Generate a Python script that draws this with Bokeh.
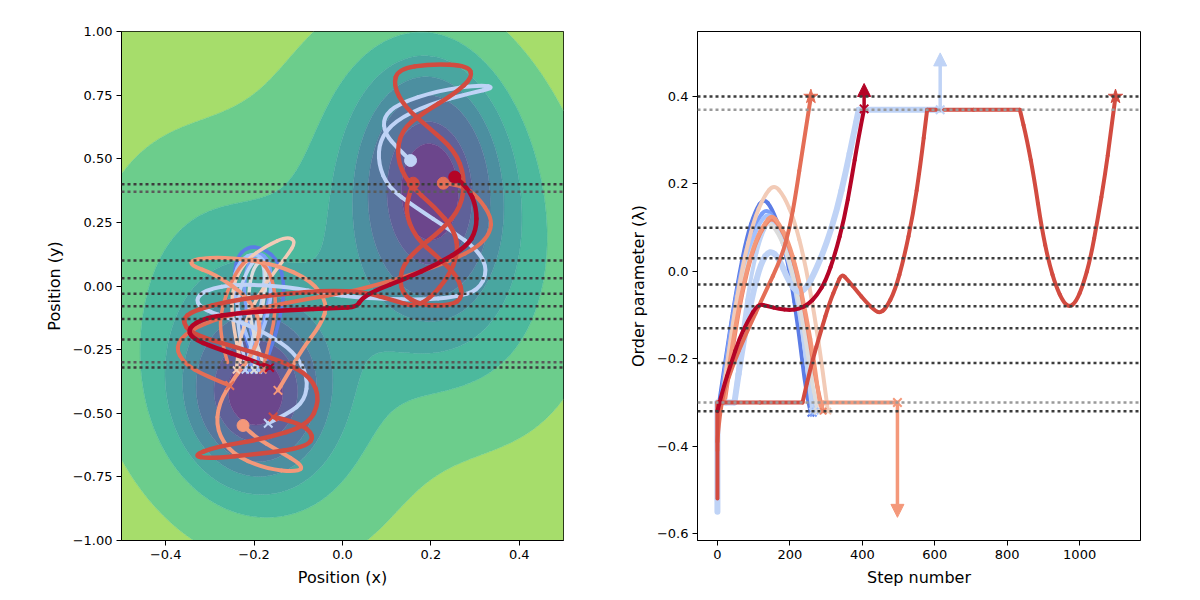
import numpy as np
from bokeh.plotting import figure
from bokeh.layouts import row
from bokeh.models import (Arrow, NormalHead, FixedTicker, CustomJSTickFormatter,
                          ColumnDataSource, Span, Range1d)
from bokeh.embed import file_html
from bokeh.resources import INLINE

FONT = "DejaVu Sans"

# ---------------- interfaces (order parameter = y position) ----------------
INTERFACES = [-0.32, -0.21, -0.13, -0.08, -0.03, 0.03, 0.10, 0.40]
SHIFTED_LINES = [-0.30, 0.37]

# ---------------- potential energy surface ----------------
WELL_X = [-0.20, 0.20]
WELL_Y = [-0.44, 0.41]
WELL_SX = [0.12, 0.12]
WELL_SY = [0.25, 0.37]
WELL_DEPTH = 1.5
VALLEY_ANGLE_DEG = 30.0
VALLEY_K_ACROSS = 4.5
VALLEY_K_ALONG = 2.7
VALLEY_K_ALONG4 = 2.0
BARRIER_HEIGHT = 0.4
BARRIER_WIDTH = 0.15
# points lying on the band boundaries (outermost boundary first)
LEVEL_X = [-0.50, -0.448, -0.398, -0.360, -0.330, -0.290, -0.258]
LEVEL_Y = [0.44, -0.43, -0.43, -0.43, -0.43, -0.43, -0.43]
# band colours from the bottom of the wells outwards
BAND_COLORS = ["#6c468c", "#5f6199", "#55789d", "#4c8fa0",
               "#49a6a0", "#4cb99d", "#6ccd8c", "#a6dd6b"]

# ---------------- trajectories: positions (x, y) ----------------
A_X = [-0.20, -0.22, -0.24, -0.245, -0.24, -0.215, -0.18, -0.145, -0.13, -0.14, -0.16, -0.18]
A_Y = [-0.30, -0.20, -0.08, 0.03, 0.11, 0.155, 0.150, 0.10, 0.0, -0.12, -0.24, -0.33]
B_X = [-0.19, -0.21, -0.225, -0.215, -0.19, -0.165, -0.16, -0.175, -0.195, -0.21]
B_Y = [-0.30, -0.16, -0.02, 0.09, 0.135, 0.10, 0.0, -0.12, -0.24, -0.33]
C_X = [-0.21, -0.18, -0.16, -0.165, -0.195, -0.235, -0.25, -0.23, -0.205, -0.19]
C_Y = [-0.30, -0.18, -0.05, 0.07, 0.135, 0.10, 0.0, -0.13, -0.25, -0.33]
D_X = [-0.22, -0.24, -0.235, -0.21, -0.19, -0.175, -0.18, -0.20, -0.22]
D_Y = [-0.30, -0.15, -0.02, 0.08, 0.115, 0.07, -0.05, -0.18, -0.33]
E_X = [-0.18, -0.20, -0.215, -0.205, -0.185, -0.17, -0.18, -0.195, -0.20]
E_Y = [-0.30, -0.20, -0.06, 0.06, 0.105, 0.05, -0.08, -0.20, -0.33]
F_X = [-0.23, -0.25, -0.25, -0.22, -0.17, -0.125, -0.105, -0.125, -0.17, -0.21, -0.235, -0.24]
F_Y = [-0.30, -0.15, 0.0, 0.10, 0.16, 0.195, 0.175, 0.12, 0.02, -0.10, -0.22, -0.33]
H_X = [-0.26, -0.28, -0.27, -0.24, -0.21, -0.17, -0.15, -0.155, -0.17, -0.18]
H_Y = [-0.30, -0.18, -0.06, 0.06, 0.115, 0.08, -0.03, -0.15, -0.25, -0.33]
G_X = [-0.146, -0.123, -0.093, -0.048, -0.033, -0.070, -0.153, -0.259, -0.338, -0.345, -0.289,
       -0.213, -0.183, -0.198, -0.244, -0.281, -0.285, -0.251, -0.176, -0.100, -0.089, -0.146,
       -0.198, -0.225]
G_Y = [-0.410, -0.345, -0.253, -0.149, -0.070, 0.022, 0.087, 0.113, 0.107, 0.081, 0.048,
       -0.044, -0.149, -0.253, -0.358, -0.463, -0.568, -0.659, -0.718, -0.731, -0.705, -0.646,
       -0.594, -0.548]
I_X = [-0.255, -0.311, -0.357, -0.379, -0.349, -0.274, -0.176, -0.078, 0.013, 0.088, 0.164,
       0.246, 0.307, 0.335, 0.337, 0.307, 0.269, 0.228]
I_Y = [-0.391, -0.352, -0.306, -0.240, -0.175, -0.122, -0.083, -0.050, -0.024, 0.009, 0.048,
       0.100, 0.153, 0.212, 0.271, 0.349, 0.399, 0.404]
J_X = [-0.157, -0.100, -0.063, -0.082, -0.183, -0.304, -0.338, -0.289, -0.176, -0.078, -0.051,
       -0.070, -0.138, -0.244, -0.342, -0.364, -0.338, -0.251, -0.138, -0.033, 0.050, 0.118,
       0.164, 0.201, 0.239, 0.262, 0.254, 0.209, 0.148, 0.122, 0.133, 0.179, 0.254, 0.295,
       0.284, 0.201, 0.126, 0.115, 0.141, 0.194, 0.254, 0.277, 0.269, 0.224, 0.164, 0.130,
       0.133, 0.179, 0.246, 0.273, 0.262, 0.216, 0.164, 0.141, 0.156, 0.160]
J_Y = [-0.515, -0.535, -0.587, -0.633, -0.659, -0.679, -0.666, -0.633, -0.600, -0.548, -0.450,
       -0.358, -0.293, -0.240, -0.188, -0.135, -0.096, -0.057, -0.031, -0.018, -0.024, -0.057,
       -0.083, -0.044, 0.035, 0.127, 0.218, 0.310, 0.402, 0.506, 0.611, 0.677, 0.755, 0.821,
       0.866, 0.873, 0.853, 0.788, 0.703, 0.624, 0.533, 0.428, 0.310, 0.218, 0.140, 0.061,
       -0.031, -0.077, -0.077, -0.044, 0.035, 0.113, 0.192, 0.297, 0.388, 0.404]
K_X = [-0.165, -0.213, -0.289, -0.342, -0.349, -0.311, -0.236, -0.123, -0.010, 0.032, 0.043,
       0.073, 0.141, 0.216, 0.280, 0.303, 0.303, 0.284, 0.254]
K_Y = [-0.320, -0.286, -0.243, -0.204, -0.164, -0.125, -0.107, -0.094, -0.086, -0.083, -0.050,
       -0.018, 0.028, 0.087, 0.153, 0.218, 0.310, 0.388, 0.428]
L_X = [-0.168, -0.123, -0.085, -0.078, -0.108, -0.176, -0.251, -0.311, -0.334, -0.311, -0.236,
       -0.123, -0.033, 0.028, 0.088, 0.179, 0.254, 0.307, 0.329, 0.307, 0.246, 0.164, 0.103,
       0.081, 0.084, 0.118, 0.194, 0.292, 0.345, 0.314, 0.216, 0.126, 0.092, 0.096, 0.126, 0.154]
L_Y = [-0.539, -0.502, -0.450, -0.358, -0.260, -0.181, -0.129, -0.096, -0.057, -0.015, 0.009,
       -0.004, -0.031, -0.044, -0.050, -0.054, -0.044, -0.018, 0.061, 0.140, 0.218, 0.310,
       0.388, 0.480, 0.572, 0.648, 0.713, 0.759, 0.779, 0.791, 0.768, 0.716, 0.663, 0.598,
       0.539, 0.493]

# ---------------- trajectories: order parameter vs step ----------------
A_STEP = [5, 30, 55, 80, 105, 128, 150, 175, 200, 225, 245, 258]
A_LAM = [-0.30, -0.16, -0.03, 0.075, 0.14, 0.168, 0.145, 0.09, 0.0, -0.14, -0.28, -0.325]
B_STEP = [8, 35, 60, 85, 110, 135, 160, 185, 210, 235, 255, 265]
B_LAM = [-0.30, -0.135, -0.017, 0.068, 0.118, 0.145, 0.118, 0.068, -0.017, -0.135, -0.26, -0.325]
C_STEP = [12, 40, 65, 90, 115, 140, 165, 190, 215, 240, 260, 270]
C_LAM = [-0.30, -0.135, -0.021, 0.06, 0.109, 0.135, 0.109, 0.06, -0.021, -0.135, -0.25, -0.32]
D_STEP = [47, 70, 95, 120, 145, 170, 195, 220, 245, 262]
D_LAM = [-0.30, -0.13, 0.0, 0.083, 0.12, 0.09, 0.03, -0.06, -0.20, -0.32]
E_STEP = [15, 42, 67, 92, 117, 142, 167, 192, 217, 242, 262, 276]
E_LAM = [-0.30, -0.145, -0.035, 0.042, 0.089, 0.115, 0.089, 0.042, -0.035, -0.145, -0.26, -0.32]
F_STEP = [12, 40, 70, 100, 128, 156, 184, 212, 240, 268, 290, 305]
F_LAM = [-0.30, -0.128, 0.015, 0.116, 0.171, 0.20, 0.172, 0.118, 0.028, -0.099, -0.223, -0.32]
H_STEP = [20, 48, 75, 100, 125, 150, 175, 200, 225, 250, 275, 292]
H_LAM = [-0.30, -0.141, -0.023, 0.054, 0.10, 0.125, 0.10, 0.054, -0.023, -0.131, -0.27, -0.32]
G_STEP = [0, 0, 0, 18, 18, 45, 75, 105, 130, 150, 170, 195, 220, 245, 268, 285, 292, 292, 497]
G_LAM = [-0.41, -0.30, -0.30, -0.30, -0.30, -0.145, -0.015, 0.07, 0.11, 0.13, 0.11, 0.07, 0.0,
         -0.10, -0.21, -0.32, -0.30, -0.30, -0.30]
I_STEP = [0, 8, 40, 80, 130, 176, 200, 217, 235, 258]
I_LAM = [-0.39, -0.30, -0.22, -0.14, -0.052, 0.03, 0.10, 0.18, 0.28, 0.40]
J_STEP = [0, 0, 0, 235, 235, 260, 286, 310, 330, 343, 360, 385, 410, 435, 449, 465, 490, 515,
          540, 560, 579, 579, 835, 835, 855, 875, 895, 915, 935, 955, 971, 990, 1010, 1030,
          1050, 1070, 1085, 1099]
J_LAM = [-0.52, -0.30, -0.30, -0.30, -0.30, -0.21, -0.136, -0.07, -0.03, -0.005, -0.02, -0.045,
         -0.07, -0.09, -0.095, -0.085, -0.045, 0.03, 0.13, 0.24, 0.37, 0.37, 0.37, 0.37, 0.30,
         0.21, 0.10, 0.02, -0.035, -0.07, -0.082, -0.07, -0.03, 0.03, 0.12, 0.22, 0.31, 0.40]
K_STEP = [0, 15, 38, 60, 84, 112, 140, 170, 200, 225, 250, 275, 300, 325, 350, 370, 388, 405]
K_LAM = [-0.32, -0.27, -0.21, -0.155, -0.113, -0.074, -0.08, -0.086, -0.089, -0.086, -0.076,
         -0.055, -0.02, 0.04, 0.12, 0.21, 0.30, 0.372]
L_STEP = [0, 0, 0, 47, 47, 70, 95, 120, 145, 170, 195, 220, 245, 270, 300, 330, 355, 375, 390,
          390, 615]
L_LAM = [-0.55, -0.30, -0.30, -0.30, -0.30, -0.17, -0.06, 0.02, 0.05, 0.03, -0.02, -0.05, -0.04,
         0.0, 0.06, 0.14, 0.23, 0.31, 0.37, 0.37, 0.37]

# arrow tips of the continued paths
K_ARROW_TIP = 0.43
L_ARROW_TIP = 0.50
G_ARROW_TIP = -0.563

# colours (coolwarm)
COL = {
    "A": "#5b7ce6", "B": "#7b9ff9", "C": "#a3c2fe", "D": "#c0d4f5", "E": "#dcdcdc",
    "F": "#f2cbb7", "H": "#ee8468", "G": "#f4987a", "I": "#e46e56", "J": "#d24b40",
    "K": "#b40426", "L": "#bfd3f6",
}


def potential(x, y):
    yy = 0.5 * y
    a = np.deg2rad(VALLEY_ANGLE_DEG)
    d = np.cos(a) * x + np.sin(a) * yy
    n = -np.sin(a) * x + np.cos(a) * yy
    v = VALLEY_K_ACROSS * n ** 2 + VALLEY_K_ALONG * d ** 2 + VALLEY_K_ALONG4 * d ** 4
    v = v + BARRIER_HEIGHT * np.exp(-0.5 * (d / BARRIER_WIDTH) ** 2)
    for x0, y0, sx, sy in zip(WELL_X, WELL_Y, WELL_SX, WELL_SY):
        v = v - WELL_DEPTH * np.exp(-0.5 * (((x - x0) / sx) ** 2 + ((y - y0) / sy) ** 2))
    return v


def smooth_source(xs, ys):
    """Quadratic pieces through the knot midpoints (curve starts/ends at the end knots)."""
    n = len(xs)
    cols = {k: [] for k in ("x0", "y0", "x1", "y1", "cx", "cy")}
    for i in range(1, n - 1):
        sx = xs[0] if i == 1 else 0.5 * (xs[i - 1] + xs[i])
        sy = ys[0] if i == 1 else 0.5 * (ys[i - 1] + ys[i])
        ex = xs[-1] if i == n - 2 else 0.5 * (xs[i] + xs[i + 1])
        ey = ys[-1] if i == n - 2 else 0.5 * (ys[i] + ys[i + 1])
        cols["x0"].append(sx); cols["y0"].append(sy)
        cols["x1"].append(ex); cols["y1"].append(ey)
        cols["cx"].append(xs[i]); cols["cy"].append(ys[i])
    return ColumnDataSource(cols)


def draw_path(p, xs, ys, color, width):
    p.quadratic(x0="x0", y0="y0", x1="x1", y1="y1", cx="cx", cy="cy",
                source=smooth_source(xs, ys), line_color=color, line_width=width,
                line_cap="round", line_join="round")


def fmt(digits):
    return CustomJSTickFormatter(code=(
        "const s = Math.abs(tick).toFixed(%d); return tick < -1e-9 ? '\\u2212' + s : s;" % digits))


def style(p, xlabel, ylabel, xticks, yticks, xd, yd):
    p.xaxis.axis_label = xlabel
    p.yaxis.axis_label = ylabel
    p.xaxis.ticker = FixedTicker(ticks=xticks)
    p.yaxis.ticker = FixedTicker(ticks=yticks)
    p.xaxis.formatter = fmt(xd)
    p.yaxis.formatter = fmt(yd)
    for ax in (p.xaxis, p.yaxis):
        ax.axis_label_text_font = FONT
        ax.axis_label_text_font_size = "16px"
        ax.axis_label_text_font_style = "normal"
        ax.axis_label_text_color = "black"
        ax.axis_label_standoff = 6
        ax.major_label_text_font = FONT
        ax.major_label_text_font_size = "13px"
        ax.major_label_text_color = "black"
        ax.major_label_standoff = 4
        ax.major_tick_in = 0
        ax.major_tick_out = 5
        ax.major_tick_line_color = "black"
        ax.minor_tick_line_color = None
        ax.axis_line_color = "black"
    p.xgrid.visible = False
    p.ygrid.visible = False
    p.outline_line_color = "black"
    p.outline_line_width = 1
    p.outline_line_alpha = 1.0
    p.background_fill_color = "white"
    p.border_fill_color = "white"


def interface_lines(p, grey):
    for y in SHIFTED_LINES:
        p.add_layout(Span(location=y, dimension="width", line_color=grey,
                          line_width=2.5, line_dash="3 3"))
    for y in INTERFACES:
        p.add_layout(Span(location=y, dimension="width", line_color="#3c3c3c",
                          line_width=2.5, line_dash="3 3"))


# ================= left panel: positions on the energy surface =================
p1 = figure(width=600, height=600, output_backend="svg", toolbar_location=None,
            x_range=Range1d(-0.5, 0.5), y_range=Range1d(-1.0, 1.0),
            min_border_left=121, min_border_right=37, min_border_top=31, min_border_bottom=60)

gx = np.linspace(-0.5, 0.5, 241)
gy = np.linspace(-1.0, 1.0, 481)
GX, GY = np.meshgrid(gx, gy)
Z = potential(GX, GY)
inner = sorted(potential(np.array(LEVEL_X), np.array(LEVEL_Y)).tolist())
levels = [float(Z.min()) - 1.0] + inner + [float(Z.max()) + 1.0]
line_cols = [BAND_COLORS[0]] + BAND_COLORS
p1.contour(gx, gy, Z, levels, fill_color=BAND_COLORS, line_color=line_cols,
           line_width=1, line_alpha=0.7)

for key, xs, ys, w in [("A", A_X, A_Y, 3.5), ("B", B_X, B_Y, 3.5), ("C", C_X, C_Y, 3.5),
                       ("D", D_X, D_Y, 3.5), ("E", E_X, E_Y, 3.5), ("F", F_X, F_Y, 3.5),
                       ("H", H_X, H_Y, 3.5), ("L", L_X, L_Y, 4), ("G", G_X, G_Y, 4),
                       ("I", I_X, I_Y, 4), ("J", J_X, J_Y, 4.5), ("K", K_X, K_Y, 4.5)]:
    draw_path(p1, xs, ys, COL[key], w)

# path starts (crosses) and ends (dots)
for key, xs, ys in [("A", A_X, A_Y), ("B", B_X, B_Y), ("C", C_X, C_Y), ("D", D_X, D_Y),
                    ("E", E_X, E_Y), ("F", F_X, F_Y), ("H", H_X, H_Y)]:
    p1.scatter([xs[-1]], [ys[-1]], marker="x", size=10, line_width=2, line_color=COL[key])
for key, xs, ys in [("L", L_X, L_Y), ("G", G_X, G_Y), ("I", I_X, I_Y), ("J", J_X, J_Y),
                    ("K", K_X, K_Y)]:
    p1.scatter([xs[0]], [ys[0]], marker="x", size=12, line_width=2, line_color=COL[key])
    p1.scatter([xs[-1]], [ys[-1]], marker="circle", size=12, fill_color=COL[key],
               line_color=COL[key])

interface_lines(p1, "#5a5a5a")
style(p1, "Position (x)", "Position (y)", [-0.4, -0.2, 0.0, 0.2, 0.4],
      [-1.0, -0.75, -0.5, -0.25, 0.0, 0.25, 0.5, 0.75, 1.0], 1, 2)

# ================= right panel: order parameter along the paths =================
p2 = figure(width=600, height=600, output_backend="svg", toolbar_location=None,
            x_range=Range1d(-55, 1168), y_range=Range1d(-0.616, 0.549),
            min_border_left=97, min_border_right=60, min_border_top=31, min_border_bottom=60)

for key, xs, ys, w in [("A", A_STEP, A_LAM, 4), ("B", B_STEP, B_LAM, 4), ("C", C_STEP, C_LAM, 4),
                       ("D", D_STEP, D_LAM, 4), ("E", E_STEP, E_LAM, 4), ("F", F_STEP, F_LAM, 4),
                       ("H", H_STEP, H_LAM, 4), ("L", L_STEP, L_LAM, 6), ("G", G_STEP, G_LAM, 4),
                       ("I", I_STEP, I_LAM, 4), ("J", J_STEP, J_LAM, 4), ("K", K_STEP, K_LAM, 4)]:
    draw_path(p2, xs, ys, COL[key], w)

for key, xs, ys in [("A", A_STEP, A_LAM), ("B", B_STEP, B_LAM), ("C", C_STEP, C_LAM),
                    ("D", D_STEP, D_LAM), ("E", E_STEP, E_LAM), ("F", F_STEP, F_LAM),
                    ("H", H_STEP, H_LAM)]:
    p2.scatter([xs[-1]], [ys[-1]], marker="x", size=9, line_width=2, line_color=COL[key])

for key, xs, ys, tip in [("K", K_STEP, K_LAM, K_ARROW_TIP), ("L", L_STEP, L_LAM, L_ARROW_TIP),
                         ("G", G_STEP, G_LAM, G_ARROW_TIP)]:
    c = COL[key]
    p2.add_layout(Arrow(end=NormalHead(size=13, fill_color=c, line_color=c),
                        x_start=xs[-1], y_start=ys[-1], x_end=xs[-1], y_end=tip,
                        line_color=c, line_width=3.5))
    p2.scatter([xs[-1]], [ys[-1]], marker="x", size=12, line_width=2, line_color=c)

for key, xs, ys in [("I", I_STEP, I_LAM), ("J", J_STEP, J_LAM)]:
    p2.scatter([xs[-1]], [ys[-1]], marker="star", size=15, fill_color=COL[key],
               line_color=COL[key])

interface_lines(p2, "#9a9a9a")
style(p2, "Step number", "Order parameter (\u03bb)", [0, 200, 400, 600, 800, 1000],
      [-0.6, -0.4, -0.2, 0.0, 0.2, 0.4], 0, 1)

layout = row(p1, p2)
open("out.html", "w").write(file_html(layout, INLINE))
